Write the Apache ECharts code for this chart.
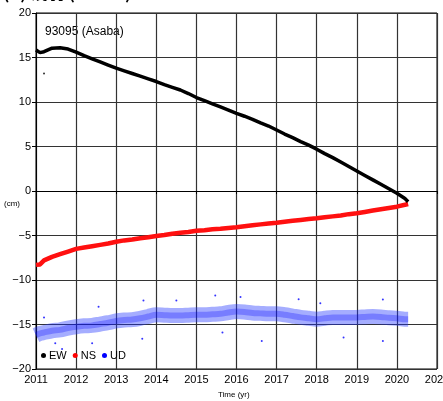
<!DOCTYPE html>
<html><head><meta charset="utf-8">
<script src="https://cdn.jsdelivr.net/npm/echarts@6/dist/echarts.min.js"></script>
<style>html,body{margin:0;padding:0;background:#fff}#c{width:443px;height:401px}</style>
</head><body><div id="c"></div>
<script>
const years = [2011.0,2011.1,2011.2,2011.4,2011.6,2011.8,2012.0,2012.2,2012.4,2012.6,2012.8,2013.0,2013.2,2013.4,2013.6,2013.8,2014.0,2014.2,2014.4,2014.6,2014.8,2015.0,2015.2,2015.4,2015.6,2015.8,2016.0,2016.2,2016.4,2016.6,2016.8,2017.0,2017.2,2017.4,2017.6,2017.8,2018.0,2018.2,2018.4,2018.6,2018.8,2019.0,2019.2,2019.4,2019.6,2019.8,2020.0,2020.2,2020.28];
const ew = [15.85,15.55,15.65,16.05,16.1,15.95,15.6,15.2,14.85,14.5,14.15,13.8,13.5,13.2,12.9,12.6,12.3,11.95,11.65,11.35,10.95,10.5,10.15,9.8,9.45,9.1,8.73,8.4,8.05,7.65,7.3,6.85,6.4,6.0,5.55,5.15,4.7,4.2,3.75,3.25,2.75,2.25,1.75,1.25,0.75,0.25,-0.26,-0.85,-1.2];
const ns = [-8.3,-8.25,-7.8,-7.4,-7.1,-6.8,-6.5,-6.35,-6.2,-6.05,-5.9,-5.7,-5.55,-5.45,-5.3,-5.2,-5.05,-4.95,-4.8,-4.7,-4.6,-4.46,-4.4,-4.3,-4.25,-4.15,-4.08,-3.95,-3.85,-3.75,-3.65,-3.56,-3.45,-3.35,-3.25,-3.15,-3.07,-2.95,-2.85,-2.75,-2.6,-2.5,-2.35,-2.2,-2.05,-1.9,-1.76,-1.55,-1.46];
const ud = [-16.2,-16.0,-15.9,-15.7,-15.6,-15.4,-15.25,-15.15,-15.1,-14.95,-14.8,-14.6,-14.5,-14.45,-14.3,-14.1,-13.9,-13.95,-14.0,-14.0,-13.95,-13.9,-13.9,-13.85,-13.8,-13.65,-13.55,-13.6,-13.7,-13.75,-13.8,-13.8,-13.9,-14.05,-14.2,-14.3,-14.4,-14.3,-14.2,-14.2,-14.2,-14.2,-14.15,-14.1,-14.15,-14.25,-14.3,-14.4,-14.4];
const udOutYears = [2011.65,2011.48,2012.56,2012.4,2015.47,2016.1,2016.63,2017.55,2019.65,2019.65,2011.2,2013.68,2015.65,2018.67,2014.5,2013.65,2018.09];
const udOutVals = [-17.75,-17.1,-13.0,-17.1,-11.75,-11.9,-16.85,-12.15,-16.85,-12.2,-14.2,-12.3,-15.9,-16.45,-12.3,-16.6,-12.6];
const ewOutYears = [2011.2];
const ewOutVals = [13.2];
const xTicks = [2011,2012,2013,2014,2015,2016,2017,2018,2019,2020,2021];
const yTicks = [-20,-15,-10,-5,0,5,10,15,20];

const zip = (a,b) => a.map((x,i)=>[x,b[i]]);
const FONT = '"Liberation Sans", Arial, sans-serif';
const chart = echarts.init(document.getElementById('c'), null, {renderer:'canvas'});
chart.setOption({
  animation:false,
  grid:{left:36, right:6, top:13, bottom:32, outerBoundsMode:'none', containLabel:false, show:true, borderColor:'#000', borderWidth:1, backgroundColor:'transparent'},
  xAxis:{type:'value', min:xTicks[0], max:xTicks[xTicks.length-1], interval:1,
    axisLine:{show:true, lineStyle:{color:'#000', width:1}},
    axisTick:{show:true, length:3, lineStyle:{color:'#000'}},
    splitLine:{show:true, lineStyle:{color:'#333', width:1.2}},
    axisLabel:{color:'#000', fontSize:11, fontFamily:FONT, margin:5, hideOverlap:false, showMaxLabel:true, formatter:v=>String(v)}},
  yAxis:{type:'value', min:yTicks[0], max:yTicks[yTicks.length-1], interval:5,
    axisLine:{show:true, lineStyle:{color:'#000', width:1}},
    axisTick:{show:true, length:4, lineStyle:{color:'#000'}},
    splitLine:{show:true, lineStyle:{color:'#333', width:1.2}},
    axisLabel:{color:'#000', fontSize:11, fontFamily:FONT, margin:5, formatter:v=> v<0 ? '\u2212'+(-v) : String(v)}},
  legend:{left:41, top:350, icon:'circle', itemWidth:5, itemHeight:5, itemGap:6, padding:0,
    textStyle:{fontSize:11, fontFamily:FONT, color:'#000', padding:[0,0,0,-2]},
    data:[{name:'EW', itemStyle:{color:'#000', opacity:1}},{name:'NS', itemStyle:{color:'#ff0000', opacity:1}},{name:'UD', itemStyle:{color:'#0000ff', opacity:1}}]},
  graphic:[
    {type:'text', left:45, top:26, style:{text:'93095 (Asaba)', font:'12px '+FONT, fill:'#000'}},
    {type:'text', left:3, top:-16, style:{text:'(b) 浅羽 (93095)', font:'bold 17px "Noto Sans CJK JP", '+FONT, fill:'#000'}},
    {type:'text', left:4, top:200, style:{text:'(cm)', font:'8px '+FONT, fill:'#000'}},
    {type:'text', left:218, top:391, style:{text:'Time (yr)', font:'8px '+FONT, fill:'#000'}}
  ],
  series:[
    {name:'UD', type:'line', data:zip(years,ud), showSymbol:false, smooth:0.3, z:2,
     itemStyle:{color:'#0000ff'}, lineStyle:{color:'rgba(30,50,255,0.4)', width:15}},
    {name:'UD', type:'line', data:zip(years,ud), showSymbol:false, smooth:0.3, z:2,
     itemStyle:{color:'#0000ff'}, lineStyle:{color:'rgba(0,0,255,0.28)', width:6}},
    {name:'UD', type:'scatter', data:zip(udOutYears,udOutVals), symbolSize:2, z:2, itemStyle:{color:'#0000ff'}},
    {name:'NS', type:'line', data:zip(years,ns), showSymbol:false, z:3,
     itemStyle:{color:'#ff0000'}, lineStyle:{color:'#ff1010', width:4.5}},
    {name:'EW', type:'line', data:zip(years,ew), showSymbol:false, z:4,
     itemStyle:{color:'#000'}, lineStyle:{color:'#000', width:3.5}},
    {name:'EW', type:'scatter', data:zip(ewOutYears,ewOutVals), symbolSize:2, z:4, itemStyle:{color:'#000'}}
  ]
});
</script></body></html>
